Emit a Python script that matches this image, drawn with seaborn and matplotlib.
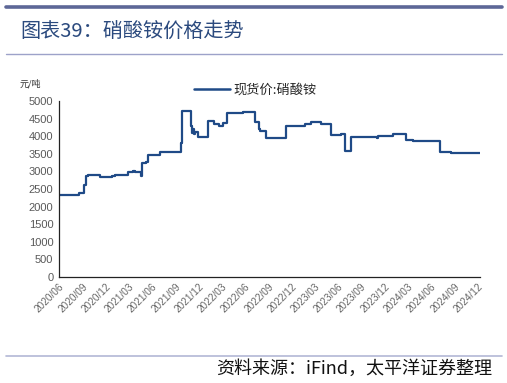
import pandas as pd
import numpy as np
import matplotlib
matplotlib.use("Agg")
import matplotlib.pyplot as plt
import matplotlib.dates as mdates
from matplotlib.lines import Line2D
import seaborn as sns

# 现货价:硝酸铵 (元/吨), step changes
dates = ["2020-06-01", "2020-08-17", "2020-09-07", "2020-09-15", "2020-09-22",
         "2020-11-09", "2020-12-25", "2021-01-07", "2021-02-27", "2021-03-17",
         "2021-03-28", "2021-04-18", "2021-04-25", "2021-05-10", "2021-05-15",
         "2021-07-04", "2021-08-16", "2021-09-22", "2021-09-27", "2021-11-01",
         "2021-11-06", "2021-11-11", "2021-11-14", "2021-11-18", "2021-11-28",
         "2022-01-06", "2022-01-30", "2022-02-18", "2022-03-08", "2022-03-22",
         "2022-05-25", "2022-07-12", "2022-07-25", "2022-07-31", "2022-08-25",
         "2022-11-11", "2023-01-01", "2023-01-25", "2023-02-18", "2023-03-27",
         "2023-05-04", "2023-06-13", "2023-06-28", "2023-07-25", "2023-11-02",
         "2023-11-08", "2024-01-04", "2024-02-25", "2024-03-25", "2024-06-25",
         "2024-07-07", "2024-08-21", "2024-12-10"]
prices = [2330, 2400, 2610, 2880, 2900,
          2840, 2860, 2900, 2975, 3000,
          2980, 2880, 3250, 3280, 3475,
          3560, 3540, 3800, 4716, 4300,
          4100, 4200, 4050, 4120, 3970,
          4430, 4340, 4300, 4380, 4650,
          4680, 4395, 4200, 4150, 3940,
          4290, 4300, 4350, 4400, 4350,
          4040, 4070, 3580, 3990, 3940,
          4000, 4075, 3900, 3875, 3850,
          3560, 3530, 3530]

tick_dates = pd.date_range("2020-06-01", "2024-12-01", freq="3MS")
y_ticks = list(range(0, 5001, 500))

df = pd.DataFrame({"date": pd.to_datetime(dates), "price": prices})

sns.set_style("white")
plt.rcParams['font.family'] = ['Noto Sans CJK SC', 'DejaVu Sans']

fig = plt.figure(figsize=(5.07, 3.83), dpi=100)
ax = fig.add_axes([0.1164, 0.2768, 0.8306, 0.4595])

line_color = "#1f4a87"
sns.lineplot(data=df, x="date", y="price", ax=ax, color=line_color,
             linewidth=1.6, drawstyle="steps-post", estimator=None)

ax.set_xlim(pd.Timestamp("2020-06-01"), pd.Timestamp("2024-12-12"))
ax.set_ylim(0, 5000)
ax.set_xticks(tick_dates)
ax.xaxis.set_major_formatter(mdates.DateFormatter("%Y/%m"))
ax.set_yticks(y_ticks)
ax.set_xlabel("")
ax.set_ylabel("")

for lbl in ax.get_xticklabels():
    lbl.set_rotation(45)
    lbl.set_ha("right")
    lbl.set_rotation_mode("anchor")
    lbl.set_fontsize(7.2)
    lbl.set_color("#666666")
    lbl.set_family("Liberation Sans")
for lbl in ax.get_yticklabels():
    lbl.set_fontsize(8)
    lbl.set_color("#595959")
    lbl.set_family("Liberation Sans")

ax.tick_params(axis="both", direction="in", length=3, width=0.8, color="#333333", pad=3)
ax.tick_params(axis="y", pad=4)
sns.despine(ax=ax)
for side in ["left", "bottom"]:
    ax.spines[side].set_color("#222222")
    ax.spines[side].set_linewidth(0.9)

# legend
handle = Line2D([0], [0], color=line_color, linewidth=1.8)
ax.legend([handle], ["现货价:硝酸铵"], loc="center left", frameon=False,
          bbox_to_anchor=(0.308, 1.063), fontsize=9.5, handlelength=2.7,
          handletextpad=0.3, borderaxespad=0)

# unit label
fig.text(20 / 507, 1 - 84 / 383, "元/吨", fontsize=6.5, color="#333333", va="center")

# header and footer lines
fig.add_artist(Line2D([6 / 507, 502 / 507], [1 - 6.7 / 383] * 2, color="#5d6797", linewidth=2.6))
fig.add_artist(Line2D([6 / 507, 502 / 507], [1 - 54 / 383] * 2, color="#9da2c9", linewidth=1.0))
fig.add_artist(Line2D([6 / 507, 502 / 507], [1 - 356 / 383] * 2, color="#b3b7d6", linewidth=1.2))

fig.text(20 / 507, 1 - 31 / 383, "图表39：硝酸铵价格走势", fontsize=14.5,
         color="#2b4a7e", va="center")
fig.text(492 / 507, 1 - 369 / 383, "资料来源：iFind，太平洋证券整理", fontsize=13,
         color="#111111", va="center", ha="right", style="italic")

fig.savefig("out.png", dpi=100)
